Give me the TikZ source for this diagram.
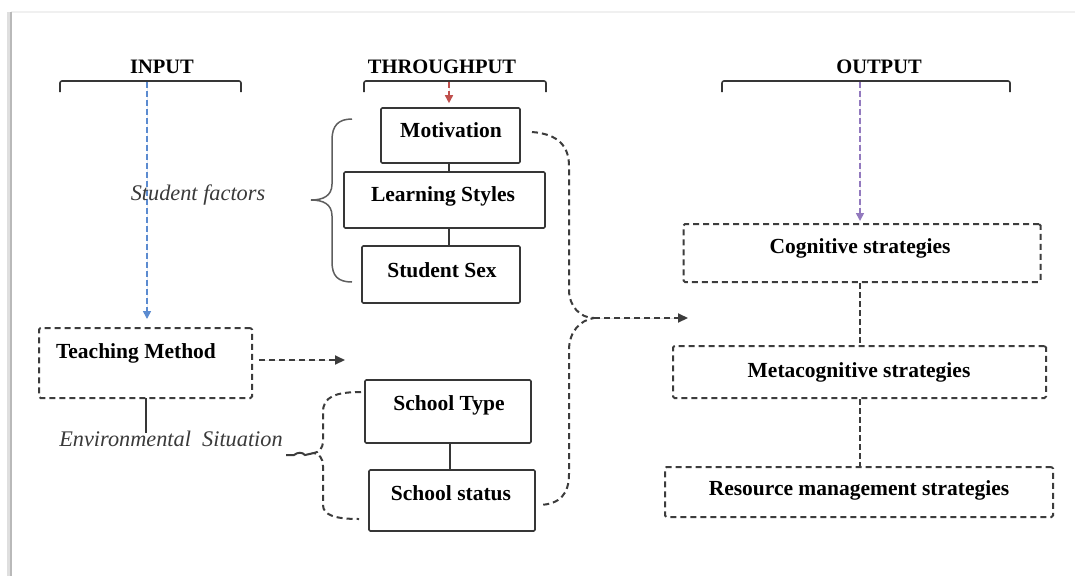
\documentclass[tikz,border=0pt]{standalone}
\usepackage{fontspec}
\setmainfont{Liberation Serif}
\usetikzlibrary{arrows.meta}
\definecolor{boxc}{HTML}{363636}
\definecolor{dashc}{HTML}{3C3C3C}
\definecolor{itc}{HTML}{3A3A3A}
\definecolor{arrblue}{HTML}{5B8BD0}
\definecolor{arrred}{HTML}{C0504D}
\definecolor{arrpurple}{HTML}{9279BE}
\tikzset{
  solidbox/.style={draw=boxc, line width=1.6pt, rounded corners=1.2pt, inner sep=0pt},
  dashbox/.style={draw=dashc, line width=2pt, dash pattern=on 6pt off 4pt, rounded corners=1.5pt, inner sep=0pt},
  boxtext/.style={font=\fontsize{21.5}{25}\selectfont\bfseries, text=black, anchor=base, inner sep=0pt},
  headtext/.style={font=\fontsize{20.5}{24}\selectfont\bfseries, text=black, anchor=base, inner sep=0pt},
  ittext/.style={font=\fontsize{22.3}{25}\selectfont\itshape, text=itc, anchor=base, inner sep=0pt},
  bracketline/.style={draw=boxc, line width=1.6pt, rounded corners=2pt},
  solidlink/.style={draw=boxc, line width=1.6pt},
  bracestyle/.style={draw=boxc!80, line width=1.5pt},
  dbrace/.style={draw=dashc, line width=2pt, dash pattern=on 6pt off 4pt},
  colarrow/.style={line width=1.6pt, dash pattern=on 6pt off 3pt, -{Triangle[length=8pt,width=8pt]}},
  blackarrow/.style={draw=dashc, line width=2pt, dash pattern=on 6pt off 4pt, -{Triangle[length=10pt,width=9pt]}},
  thinlink/.style={draw=dashc, line width=1.6pt, dash pattern=on 6pt off 3pt}
}
\begin{document}
\begin{tikzpicture}[x=1pt,y=-1pt]
\useasboundingbox (0,0) rectangle (1075,576);
% frame
\fill[white] (0,0) rectangle (1075,576);
\draw[gray!12, line width=1.5pt] (11,12) -- (1075,12);
\draw[gray!25, line width=3pt] (8,12) -- (8,576);
\draw[gray!55, line width=1.5pt] (11,12) -- (11,576);

% headings
\node[headtext] (inl) at (162,73) {INPUT};
\node[headtext] (thl) at (442,73) {THROUGHPUT};
\node[headtext] (oul) at (879,73) {OUTPUT};
\draw[bracketline] (60,92) -- (60,81) -- (241,81) -- (241,92);
\draw[bracketline] (364,92) -- (364,81) -- (546,81) -- (546,92);
\draw[bracketline] (722,92) -- (722,81) -- (1010,81) -- (1010,92);
\coordinate (ibr) at (147,82);
\coordinate (tbr) at (449,82);
\coordinate (obr) at (860,82);

% throughput boxes
\node[solidbox, minimum width=139pt, minimum height=55pt] (mot) at (450.5,135.5) {};
\node[solidbox, minimum width=201pt, minimum height=56pt] (ls) at (444.5,200) {};
\node[solidbox, minimum width=158pt, minimum height=57pt] (ss) at (441,274.5) {};
\node[solidbox, minimum width=166pt, minimum height=63pt] (st) at (448,411.5) {};
\node[solidbox, minimum width=166pt, minimum height=61pt] (sst) at (452,500.5) {};
\node[boxtext] (motT) at (451,137) {Motivation};
\node[boxtext] (lsT) at (443,201) {Learning Styles};
\node[boxtext] (ssT) at (442,277) {Student Sex};
\node[boxtext] (stT) at (449,410) {School Type};
\node[boxtext] (sstT) at (451,500) {School status};
\draw[solidlink] (449,163) -- (449,172);
\draw[solidlink] (449,228) -- (449,246);
\draw[solidlink] (450,443) -- (450,470);

% input side
\node[dashbox, minimum width=213pt, minimum height=70pt] (tm) at (145.5,363) {};
\node[boxtext] (tmT) at (136,358) {Teaching Method};
\draw[colarrow, draw=arrblue, fill=arrblue] (ibr) -- (147,319);
\node[ittext] (sf) at (198,200) {Student factors};
\draw[solidlink, line width=1.4pt] (146,398) -- (146,433);
\node[ittext] (es) at (171,446) {Environmental\ \ Situation};
\coordinate (tmEnd) at (345,360);
\draw[blackarrow, fill=dashc] (259,360) -- (tmEnd);

% red arrow
\draw[colarrow, draw=arrred, fill=arrred] (tbr) -- ([yshift=4pt]mot.north -| tbr);

% student factors brace
\draw[bracestyle] (352,119)
  .. controls (338,119) and (332,126) .. (332,140) -- (332,184)
  .. controls (332,196) and (323,200) .. (311,200)
  .. controls (323,200) and (332,204) .. (332,216) -- (332,262)
  .. controls (332,276) and (338,282) .. (352,282);

% environmental dashed brace
\coordinate (etip) at (314,453);
\draw[dbrace] (361,392) .. controls (335,392) and (323,397) .. (323,412) -- (323,440)
  .. controls (323,449) and (319,452) .. (etip)
  .. controls (319,454) and (323,458) .. (323,466) -- (323,505)
  .. controls (323,515) and (335,519) .. (359,519);
\draw[dashc, line width=2pt] (286,455) -- (294,455) .. controls (298,452) and (302,452) .. (305,455) -- (etip);

% right dashed brace
\coordinate (merge) at (594,318);
\coordinate (mergeEnd) at (688,318);
\draw[dbrace] (532,132) .. controls (558,134) and (569,146) .. (569,166) -- (569,290)
  .. controls (569,306) and (580,318) .. (merge)
  .. controls (580,320) and (569,332) .. (569,350) -- (569,474)
  .. controls (569,494) and (560,504) .. (540,505);
\draw[blackarrow, fill=dashc] (merge) -- (mergeEnd);

% output side
\node[dashbox, minimum width=357pt, minimum height=58pt] (cog) at (862,253) {};
\node[dashbox, minimum width=373pt, minimum height=52pt] (meta) at (859.5,372) {};
\node[dashbox, minimum width=388pt, minimum height=50pt] (res) at (859,492) {};
\node[boxtext] (cogT) at (860,253) {Cognitive strategies};
\node[boxtext] (metaT) at (859,377) {Metacognitive strategies};
\node[boxtext] (resT) at (859,495) {Resource management strategies};
\draw[colarrow, draw=arrpurple, fill=arrpurple] (obr) -- ([yshift=2pt]cog.north -| obr);
\draw[thinlink] (cog.south -| obr) -- (meta.north -| obr);
\draw[thinlink] (meta.south -| obr) -- (res.north -| obr);
\end{tikzpicture}
\end{document}
